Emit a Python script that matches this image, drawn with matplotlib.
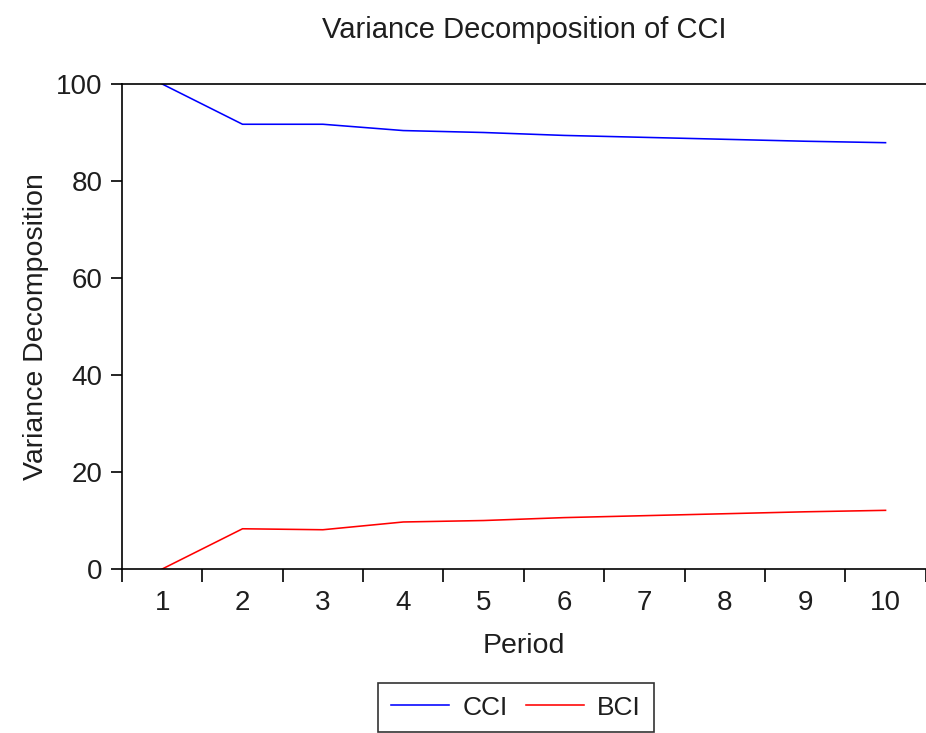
import matplotlib
matplotlib.use("Agg")
import matplotlib.pyplot as plt

# variance decomposition of CCI (percent), periods 1..10
periods = [1, 2, 3, 4, 5, 6, 7, 8, 9, 10]
cci = [100.0, 91.7, 91.7, 90.4, 90.0, 89.4, 89.0, 88.6, 88.2, 87.9]
bci = [0.0, 8.3, 8.1, 9.7, 10.0, 10.6, 11.0, 11.4, 11.8, 12.1]
y_ticks = [0, 20, 40, 60, 80, 100]

plt.rcParams['font.family'] = ['Liberation Sans', 'DejaVu Sans']
txt = '#1e1e1e'

fig = plt.figure(figsize=(9.26, 7.33), dpi=100)
ax = fig.add_axes([0.1317, 0.2237, 0.868, 0.6617])

ax.plot(periods, cci, color='#0000ff', lw=1.15, label='CCI')
ax.plot(periods, bci, color='#ff0000', lw=1.15, label='BCI')

ax.set_xlim(0.5, 10.5)
ax.set_ylim(0, 100)
ax.set_yticks(y_ticks)

# tick marks between categories, labels on the periods
ax.set_xticks([p + 0.5 for p in [0] + periods])
ax.set_xticklabels([])
ax.set_xticks(periods, minor=True)
ax.set_xticklabels([str(p) for p in periods], minor=True)
ax.tick_params(axis='x', which='minor', length=0, pad=15, labelsize=20, labelcolor=txt)
ax.tick_params(axis='x', which='major', length=9, width=1.2, direction='out')
ax.tick_params(axis='y', length=8, width=1.2, direction='out', labelsize=20,
               pad=6, labelcolor=txt)

for side in ['left', 'top', 'bottom']:
    ax.spines[side].set_linewidth(1.2)
ax.spines['right'].set_visible(False)

ax.set_title('Variance Decomposition of CCI', fontsize=21, pad=33, color=txt)
ax.set_xlabel('Period', fontsize=20.5, labelpad=12, color=txt)
ax.set_ylabel('Variance Decomposition', fontsize=20.5, labelpad=5, color=txt)

handles, labels = ax.get_legend_handles_labels()
leg = fig.legend(handles, labels, loc='upper center',
                 bbox_to_anchor=(516 / 926, 1 - 683 / 733), ncol=2,
                 fontsize=19, frameon=True, fancybox=False, handlelength=2.2,
                 columnspacing=0.7, borderpad=0.48, handletextpad=0.5,
                 borderaxespad=0, labelcolor=txt)
leg.get_frame().set_edgecolor('black')
leg.get_frame().set_linewidth(1.2)

fig.savefig('out.png', dpi=100)
